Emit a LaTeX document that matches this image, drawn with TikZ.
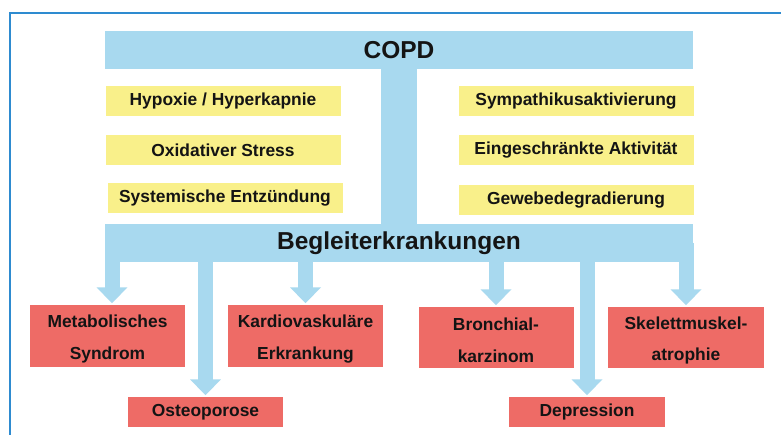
\documentclass[tikz,border=0pt]{standalone}
\usepackage{fontspec}
\setmainfont{Liberation Sans}
\usetikzlibrary{arrows.meta}
\definecolor{barblue}{RGB}{168,217,239}
\definecolor{ybox}{RGB}{249,240,138}
\definecolor{rbox}{RGB}{238,107,102}
\definecolor{framecol}{RGB}{46,139,208}
\definecolor{txt}{RGB}{20,20,20}
\tikzset{
  bar/.style={fill=barblue, inner sep=0pt, minimum width=588pt, minimum height=38pt, text=txt, font=\bfseries\fontsize{24.5}{26}\selectfont},
  cause/.style={fill=ybox, inner sep=0pt, minimum width=235pt, minimum height=30pt, text=txt, font=\bfseries\fontsize{17.4}{20}\selectfont},
  disease/.style={fill=rbox, inner sep=0pt, minimum width=155pt, text=txt, align=center, font=\bfseries\fontsize{17.4}{32}\selectfont},
  dtext/.style={inner sep=0pt, text=txt, align=center, font=\bfseries\fontsize{17.4}{32}\selectfont},
  fat/.style={draw=barblue, line width=15pt, -{Triangle[width=30pt,length=16pt]}, shorten >=1.5pt},
  stem/.style={draw=barblue, line width=36pt},
}
\begin{document}
\begin{tikzpicture}[x=1pt,y=-1pt]
\useasboundingbox (0,0) rectangle (781,435);
\fill[white] (0,0) rectangle (781,435);
\draw[framecol, line width=1.4pt] (10,440) -- (10,13) -- (790,13);

\node[bar] (copd) at (399,50) {COPD};
\node[bar, text=barblue] (begl) at (399,243) {Begleiterkrankungen};
\draw[stem] ([yshift=2pt]copd.south) -- ([yshift=-2pt]begl.north);

\node[cause] (c1) at (223,101) {Hypoxie / Hyperkapnie};
\node[cause] (c2) at (223,150) {Oxidativer Stress};
\node[cause] (c3) at (225,198) {Systemische Entzündung};
\node[cause] (c4) at (576,101) {Sympathikusaktivierung};
\node[cause] (c5) at (576,150) {Eingeschränkte Aktivität};
\node[cause] (c6) at (576,200) {Gewebedegradierung};

\node[disease, minimum height=62pt] (meta) at (107.5,336) {};
\node[disease, minimum height=62pt] (kardio) at (305.5,336) {};
\node[disease, minimum height=61pt] (bronch) at (496,337.5) {};
\node[disease, minimum height=61pt, minimum width=156pt] (skel) at (686,337.5) {};
\node[dtext] (metat) at ([yshift=-3pt]meta.center) {Metabolisches\\Syndrom};
\node[dtext] (kardiot) at ([yshift=-3pt]kardio.center) {Kardiovaskuläre\\Erkrankung};
\node[dtext] (broncht) at ([yshift=-3pt]bronch.center) {Bronchial-\\karzinom};
\node[dtext] (skelt) at ([yshift=-3pt]skel.center) {Skelettmuskel-\\atrophie};
\node[disease, minimum height=30pt] (osteo) at (205.5,412) {Osteoporose};
\node[disease, minimum height=30pt, minimum width=156pt] (depr) at (587,412) {Depression};

\draw[fat] (begl.center -| 112,0) -- ([xshift=4.5pt]meta.north);
\draw[fat] (begl.center -| kardio.north) -- (kardio.north);
\draw[fat] (begl.center -| osteo.north) -- (osteo.north);
\draw[fat] (begl.center -| bronch.north) -- (bronch.north);
\draw[fat] (begl.center -| depr.north) -- (depr.north);
\draw[fat] (begl.center -| skel.north) -- (skel.north);
\node[bar, fill=none] (begltext) at (begl.center) {Begleiterkrankungen};
\end{tikzpicture}
\end{document}
